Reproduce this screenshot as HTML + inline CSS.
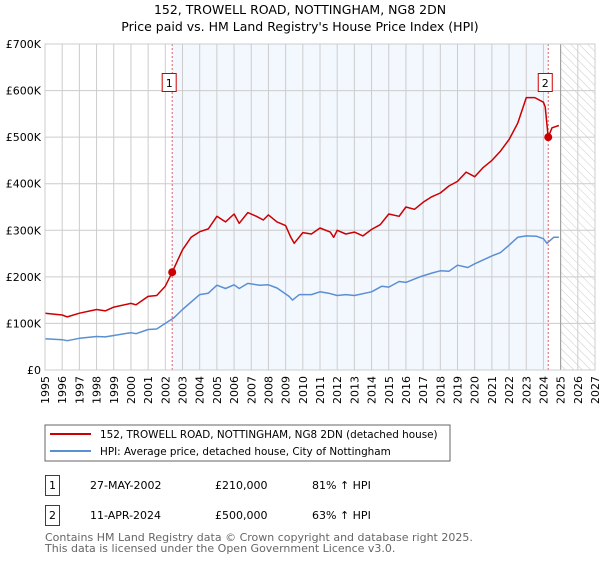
<!DOCTYPE html>
<html><head><meta charset="utf-8"><style>
body{margin:0;background:#fff;width:600px;height:560px;overflow:hidden;font-family:"DejaVu Sans","Liberation Sans",sans-serif}
svg text{font-family:"DejaVu Sans","Liberation Sans",sans-serif}
</style></head><body>
<svg id="c" width="600" height="560" xmlns="http://www.w3.org/2000/svg">
<defs><pattern id="hatch" width="6" height="6" patternUnits="userSpaceOnUse" patternTransform="rotate(-45)"><line x1="0" y1="0" x2="0" y2="6" stroke="#ccc" stroke-width="1"/></pattern></defs>
<text x="300" y="14" text-anchor="middle" font-size="12.5">152, TROWELL ROAD, NOTTINGHAM, NG8 2DN</text>
<text x="300" y="31" text-anchor="middle" font-size="12.5">Price paid vs. HM Land Registry's House Price Index (HPI)</text>
<g id="plot"></g>
<rect x="45" y="425" width="405" height="36" fill="#fff" stroke="#666"/>
<line x1="50" y1="434" x2="91" y2="434" stroke="#cc0000" stroke-width="2"/>
<text x="100" y="438" font-size="10.4">152, TROWELL ROAD, NOTTINGHAM, NG8 2DN (detached house)</text>
<line x1="50" y1="451" x2="91" y2="451" stroke="#5b8fd4" stroke-width="2"/>
<text x="100" y="455" font-size="10.4">HPI: Average price, detached house, City of Nottingham</text>
<g>
<rect x="45.5" y="475.5" width="14" height="20" fill="#fff" stroke="#cc0000"/>
<text x="52.5" y="489" text-anchor="middle" font-size="11">1</text>
<text x="90" y="489" font-size="11">27-MAY-2002</text>
<text x="215" y="489" font-size="11">£210,000</text>
<text x="312" y="489" font-size="11">81% ↑ HPI</text></g>
<g>
<rect x="45.5" y="505.5" width="14" height="20" fill="#fff" stroke="#cc0000"/>
<text x="52.5" y="519" text-anchor="middle" font-size="11">2</text>
<text x="90" y="519" font-size="11">11-APR-2024</text>
<text x="215" y="519" font-size="11">£500,000</text>
<text x="312" y="519" font-size="11">63% ↑ HPI</text></g>
<text x="45" y="541" font-size="11" fill="#666">Contains HM Land Registry data © Crown copyright and database right 2025.</text>
<text x="45" y="552" font-size="11" fill="#666">This data is licensed under the Open Government Licence v3.0.</text>
</svg>
<script>
const hpiYears=[1995,1996,1996.3,1997,1998,1998.5,1999,2000,2000.3,2001,2001.5,2002,2002.5,2003,2004,2004.5,2005,2005.5,2006,2006.3,2006.8,2007.5,2008,2008.5,2009.2,2009.4,2009.8,2010.5,2011,2011.5,2012,2012.5,2013,2014,2014.6,2015,2015.6,2016,2016.8,2017.5,2018,2018.5,2019,2019.6,2020,2021,2021.5,2022,2022.5,2023,2023.6,2024,2024.2,2024.6,2024.9];
const hpiValues=[67,65,63,68,72,71,74,80,78,87,88,100,112,130,162,165,182,175,183,175,186,182,183,176,158,150,162,162,168,165,160,162,160,168,180,178,190,188,200,208,213,212,225,220,228,245,252,268,285,288,287,282,272,285,285];
const priceYears=[1995,1996,1996.3,1997,1998,1998.5,1999,2000,2000.3,2001,2001.5,2002,2002.4,2003,2003.5,2004,2004.5,2005,2005.5,2006,2006.3,2006.8,2007.3,2007.7,2008,2008.5,2009,2009.3,2009.5,2010,2010.5,2011,2011.6,2011.8,2012,2012.5,2013,2013.5,2014,2014.5,2015,2015.6,2016,2016.5,2017,2017.5,2018,2018.5,2019,2019.5,2020,2020.5,2021,2021.5,2022,2022.5,2023,2023.5,2024,2024.1,2024.28,2024.5,2024.9];
const priceValues=[122,118,114,122,130,127,135,143,140,158,160,180,210,258,285,297,303,330,318,335,315,338,330,322,333,318,310,285,272,295,292,305,296,285,300,292,296,288,302,312,335,330,350,345,360,372,380,395,405,425,415,435,450,470,495,530,585,585,575,565,500,520,525];
const sales=[{n:"1",t:2002.4,v:210},{n:"2",t:2024.28,v:500}];
const yTicks=[0,100,200,300,400,500,600,700];
const yTickLabels=["£0","£100K","£200K","£300K","£400K","£500K","£600K","£700K"];
const xTicks=[1995,1996,1997,1998,1999,2000,2001,2002,2003,2004,2005,2006,2007,2008,2009,2010,2011,2012,2013,2014,2015,2016,2017,2018,2019,2020,2021,2022,2023,2024,2025,2026,2027];
const X0=45,X1=595,Y0=370,Y1=44;
const x=t=>X0+(t-1995)/(2027-1995)*(X1-X0);
const y=v=>Y0-v/700*(Y0-Y1);
const NS="http://www.w3.org/2000/svg";
const g=document.getElementById('plot');
function mk(tag,a,p){const e=document.createElementNS(NS,tag);for(const k in a)e.setAttribute(k,a[k]);(p||g).appendChild(e);return e;}
const shade=mk('rect',{x:x(sales[0].t),y:Y1,width:x(sales[1].t)-x(sales[0].t),height:Y0-Y1,fill:'#eef3fd',opacity:0.7});


const hatch=mk('rect',{x:x(2025),y:Y1,width:X1-x(2025),height:Y0-Y1,fill:'url(#hatch)'});


xTicks.forEach(t=>{
  const l=mk('line',{x1:x(t),y1:Y1,x2:x(t),y2:Y0,stroke:'#ccc','stroke-width':1});
  
  
  const tx=mk('text',{x:0,y:0,'font-size':11,'text-anchor':'end',transform:`translate(${x(t)+4},${Y0+6}) rotate(-90)`});
  tx.textContent=t;
  
  
});
yTicks.forEach((v,i)=>{
  const l=mk('line',{x1:X0,y1:y(v),x2:X1,y2:y(v),stroke:'#ccc','stroke-width':1});
  
  
  const tx=mk('text',{x:X0-4,y:y(v)+4,'font-size':11,'text-anchor':'end'});
  tx.textContent=yTickLabels[i];
  
  
});
const nl=mk('line',{x1:x(2025),y1:Y1,x2:x(2025),y2:Y0,stroke:'#999','stroke-width':1});


sales.forEach(s=>{
  const l=mk('line',{x1:x(s.t),y1:Y1,x2:x(s.t),y2:Y0,stroke:'#e06060','stroke-width':1,'stroke-dasharray':'2,2'});
  
  
});
const pts=(ts,vs)=>ts.map((t,i)=>x(t).toFixed(1)+','+y(vs[i]).toFixed(1)).join(' ');
const hl=mk('polyline',{points:pts(hpiYears,hpiValues),fill:'none',stroke:'#5b8fd4','stroke-width':1.5,'stroke-linejoin':'round'});


const pl=mk('polyline',{points:pts(priceYears,priceValues),fill:'none',stroke:'#cc0000','stroke-width':1.5,'stroke-linejoin':'round'});


sales.forEach(s=>{
  const c=mk('circle',{cx:x(s.t),cy:y(s.v),r:4,fill:'#cc0000'});
  
  
  const bx=x(s.t)-10;
  const r=mk('rect',{x:bx,y:73.5,width:14,height:18,fill:'#fff',stroke:'#cc0000'});
  
  
  const tx=mk('text',{x:bx+7,y:87,'font-size':11,'text-anchor':'middle'});
  tx.textContent=s.n;
  
  
});
const fr=mk('rect',{x:X0,y:Y1,width:X1-X0,height:Y0-Y1,fill:'none',stroke:'#ccc'});


</script>
</body></html>
